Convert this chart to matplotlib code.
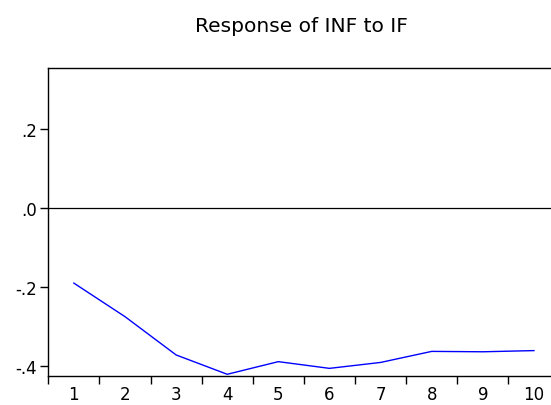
import matplotlib
matplotlib.use("Agg")
import matplotlib.pyplot as plt
from matplotlib.ticker import FixedLocator

periods = [1, 2, 3, 4, 5, 6, 7, 8, 9, 10]
response = [-0.191, -0.276, -0.373, -0.422, -0.390, -0.407, -0.392, -0.364, -0.365, -0.362]
yticks = [0.2, 0.0, -0.2, -0.4]
ytick_labels = [".2", ".0", "-.2", "-.4"]

plt.rcParams['font.family'] = ['DejaVu Sans']

fig = plt.figure(figsize=(5.51, 4.06), dpi=100)
ax = fig.add_axes([48.3 / 551, 29.3 / 406, 511.2 / 551, 307.7 / 406])

ax.plot(periods, response, color='#0000ff', linewidth=1.0)
ax.axhline(0, color='black', linewidth=0.9)

ax.set_xlim(0.5, 10.5)
ax.set_ylim(-0.4256, 0.354)

# labels at the period centres, tick marks between periods
ax.set_xticks(periods)
ax.set_xticklabels([str(p) for p in periods], fontsize=12)
ax.xaxis.set_minor_locator(FixedLocator([p - 0.5 for p in periods]))
ax.tick_params(axis='x', which='major', length=0, pad=6.5)
ax.tick_params(axis='x', which='minor', length=5.5, width=1.0, direction='out')

ax.set_yticks(yticks)
ax.set_yticklabels(ytick_labels, fontsize=12)
ax.tick_params(axis='y', length=5.5, width=1.0, direction='out', pad=2.5)

for side in ['left', 'top', 'bottom']:
    ax.spines[side].set_linewidth(1.0)
ax.spines['right'].set_visible(False)

fig.text(301 / 551, 1 - 27 / 406, "Response of INF to IF", fontsize=14.5,
         ha='center', va='center')

fig.savefig("out.png", dpi=100)
